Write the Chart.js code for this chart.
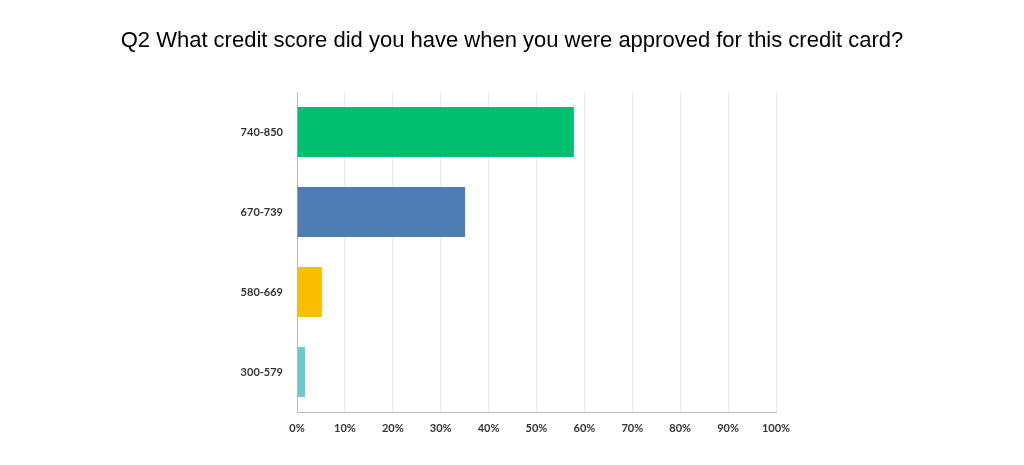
<!DOCTYPE html>
<html><head><meta charset="utf-8">
<script src="https://cdn.jsdelivr.net/npm/chart.js@4/dist/chart.umd.min.js"></script>
<style>html,body{margin:0;padding:0;background:#fff}#w{width:1024px;height:465px}</style>
</head><body><div id="w"><canvas id="c"></canvas></div>
<script>
const titleText = "Q2 What credit score did you have when you were approved for this credit card?";
const categories = ["740-850", "670-739", "580-669", "300-579"];
const values = [57.8, 35.1, 5.2, 1.7];
const colors = ["#00bf6f", "#507cb6", "#f9be00", "#6bc8cd"];
const tickLabels = ["0%","10%","20%","30%","40%","50%","60%","70%","80%","90%","100%"];

const titlePlugin = {
  id: 'tt',
  afterDraw(chart) {
    const ctx = chart.ctx;
    ctx.save();
    ctx.font = '22px "Liberation Sans", Arial, sans-serif';
    ctx.fillStyle = '#000';
    ctx.textAlign = 'center';
    ctx.textBaseline = 'middle';
    ctx.fillText(titleText, 512, 41);
    ctx.restore();
  }
};

new Chart(document.getElementById('c'), {
  type: 'bar',
  data: { labels: categories, datasets: [{ data: values, backgroundColor: colors, barPercentage: 0.625, categoryPercentage: 1 }] },
  options: {
    indexAxis: 'y',
    responsive: true, maintainAspectRatio: false, animation: false,
    layout: { padding: { top: 92, right: 248, left: 0, bottom: 0 } },
    plugins: { legend: { display: false }, tooltip: { enabled: false }, title: { display: false } },
    scales: {
      x: {
        min: 0, max: 100,
        ticks: { stepSize: 10, color: '#333', padding: 10,
          font: { family: 'Lato, "Liberation Sans", sans-serif', size: 11, weight: 'bold' },
          callback: (v, i) => tickLabels[i] },
        grid: { color: '#e8e8e8', drawTicks: false },
        border: { color: '#bbbbbb' },
        afterFit(s) { s.height = 53; }
      },
      y: {
        ticks: { color: '#333', padding: 6,
          font: { family: 'Lato, "Liberation Sans", sans-serif', size: 11, weight: 'bold' } },
        grid: { display: false },
        border: { color: '#bbbbbb' },
        afterFit(s) { s.width = 297; }
      }
    }
  },
  plugins: [titlePlugin]
});
</script></body></html>
